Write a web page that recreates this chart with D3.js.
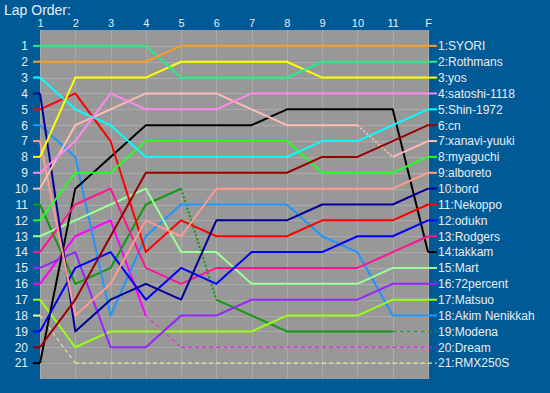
<!DOCTYPE html>
<html>
<head>
<meta charset="utf-8">
<script src="https://cdn.jsdelivr.net/npm/d3@7"></script>
<style>
  html, body { margin: 0; padding: 0; background: #005a96; }
  svg { display: block; }
  text { font-family: "Liberation Sans", Arial, sans-serif; fill: #e8eef4; }
</style>
</head>
<body>
<svg id="chart" width="550" height="393"></svg>
<script>
// ---- data ----
const laps = ["1","2","3","4","5","6","7","8","9","10","11","F"];
const rows = d3.range(1, 22);
const drivers = ["SYORI","Rothmans","yos","satoshi-1118","Shin-1972","cn","xanavi-yuuki","myaguchi","alboreto","bord","Nekoppo","odukn","Rodgers","takkam","Mart","72percent","Matsuo","Akim Nenikkah","Modena","Dream","RMX250S"];
const colors = ["#f5a020","#22ee88","#ffff00","#ff88ee","#00ffff","#990000","#ffbbb6","#22ff22","#ff9a90","#000099","#ff0000","#0000ff","#ff1493","#000000","#99ff99","#9922ff","#99ff11","#1e96ff","#119911","#ff00ff","#ffff99"];

const posSYORI    = [2,2,2,2,1,1,1,1,1,1,1,1];
const posRothmans = [1,1,1,1,3,3,3,3,2,2,2,2];
const posYos      = [8,3,3,3,2,2,2,2,3,3,3,3];
const posSatoshi  = [9,7,4,5,5,5,4,4,4,4,4,4];
const posShin     = [3,5,6,8,8,8,8,8,7,7,6,5];
const posCn       = [20,17,13,9,9,9,9,9,8,8,7,6];
const posXanavi   = [10,6,5,4,4,4,5,6,6,6,8,7];
const posMyaguchi = [12,9,9,7,7,7,7,7,9,9,9,8];
const posAlboreto = [7,18,16,12,13,10,10,10,10,10,10,9];
const posBord     = [4,19,17,16,17,12,12,12,11,11,11,10];
const posNekoppo  = [5,4,7,14,12,13,13,13,12,12,12,11];
const posOdukn    = [19,15,14,17,15,16,14,14,14,13,13,12];
const posRodgers  = [14,11,10,15,16,15,15,15,15,15,14,13];
const posTakkam   = [21,10,8,6,6,6,6,5,5,5,5,14];
const posMart     = [13,12,11,10,14,14,16,16,16,16,15,15];
const pos72       = [15,14,20,20,18,18,17,17,17,17,16,16];
const posMatsuo   = [17,20,19,19,19,19,19,18,18,18,17,17];
const posAkim     = [6,8,18,13,11,11,11,11,13,14,18,18];
const posModena   = [11,16,15,11,10,17,18,19,19,19,19,19];
const posDream    = [16,13,12,18,20,20,20,20,20,20,20,20];
const posRMX      = [18,21,21,21,21,21,21,21,21,21,21,21];

// segment styles: index i = segment from lap i to lap i+1
const dottedSegs = { "xanavi-yuuki": [9], "Modena": [4] };
const dashedSegs = { "Modena": [10], "Dream": [3,4,5,6,7,8,9,10], "RMX250S": [0,1,2,3,4,5,6,7,8,9,10] };
const dashedStub = ["Modena","Dream","RMX250S"];

const positions = [posSYORI,posRothmans,posYos,posSatoshi,posShin,posCn,posXanavi,posMyaguchi,posAlboreto,posBord,posNekoppo,posOdukn,posRodgers,posTakkam,posMart,pos72,posMatsuo,posAkim,posModena,posDream,posRMX];

// ---- layout ----
const svg = d3.select("#chart");
const x = d3.scalePoint().domain(laps).range([40, 428]);
const y = d3.scaleLinear().domain([0, 22]).range([30, 379]);
const stubL = 33, stubR = 437;

svg.append("text").attr("x", 4).attr("y", 15).attr("font-size", 14).text("Lap Order:");

// plot background
svg.append("rect").attr("x", x("1")).attr("y", y(0)).attr("width", x("F") - x("1")).attr("height", y(22) - y(0)).attr("fill", "#989898");

// grid
const grid = svg.append("g").attr("stroke", "#ababab").attr("stroke-width", 1).attr("shape-rendering", "crispEdges");
grid.selectAll("line.v").data(laps).join("line").attr("class","v")
  .attr("x1", d => Math.round(x(d)) + 0.5).attr("x2", d => Math.round(x(d)) + 0.5)
  .attr("y1", y(0)).attr("y2", y(22));
grid.selectAll("line.h").data(rows).join("line").attr("class","h")
  .attr("x1", x("1")).attr("x2", x("F"))
  .attr("y1", d => Math.round(y(d)) + 0.5).attr("y2", d => Math.round(y(d)) + 0.5);

// axes
const topAxis = svg.append("g").attr("transform", "translate(0,29)")
  .call(d3.axisTop(x).tickSize(0).tickPadding(2));
topAxis.select(".domain").remove();
topAxis.selectAll("text").attr("font-size", 11).attr("fill", "#e8eef4").style("font-family", "Liberation Sans, Arial, sans-serif");

const leftAxis = svg.append("g").attr("transform", "translate(28,0)")
  .call(d3.axisLeft(y).tickValues(rows).tickFormat(d3.format("d")).tickSize(0).tickPadding(0));
leftAxis.select(".domain").remove();
leftAxis.selectAll("text").attr("font-size", 12).attr("fill", "#e8eef4").style("font-family", "Liberation Sans, Arial, sans-serif");

// lines
const lineGen = d3.line().x(d => d[0]).y(d => d[1]);
const lg = svg.append("g").attr("fill", "none").attr("stroke-linejoin", "round");

const series = drivers.map((name, i) => ({ name, color: colors[i], pos: positions[i] }));

series.slice().reverse().forEach(s => {
  const dots = dottedSegs[s.name] || [];
  const dashes = dashedSegs[s.name] || [];
  // left stub
  lg.append("path").attr("stroke", s.color).attr("stroke-width", 2)
    .attr("d", lineGen([[stubL, y(s.pos[0])], [x(laps[0]), y(s.pos[0])]]));
  // group consecutive solid segments into runs
  let run = [];
  const flush = () => {
    if (run.length > 1) {
      lg.append("path").attr("stroke", s.color).attr("stroke-width", 2).attr("d", lineGen(run));
    }
    run = [];
  };
  for (let i = 0; i < laps.length - 1; i++) {
    const p0 = [x(laps[i]), y(s.pos[i])], p1 = [x(laps[i+1]), y(s.pos[i+1])];
    if (dots.includes(i)) {
      flush();
      lg.append("path").attr("stroke", s.color).attr("stroke-width", 2).attr("stroke-dasharray", "2,2").attr("d", lineGen([p0, p1]));
    } else if (dashes.includes(i)) {
      flush();
      lg.append("path").attr("stroke", s.color).attr("stroke-width", 1).attr("stroke-dasharray", "4,3").attr("d", lineGen([p0, p1]));
    } else {
      if (run.length === 0) run.push(p0);
      run.push(p1);
    }
  }
  flush();
  // right stub
  const last = s.pos[laps.length - 1];
  const isDash = dashedStub.includes(s.name);
  lg.append("path").attr("stroke", s.color).attr("stroke-width", isDash ? 1 : 2)
    .attr("stroke-dasharray", isDash ? "4,3" : null)
    .attr("d", lineGen([[x("F"), y(last)], [stubR, y(last)]]));
});

// legend labels
svg.append("g").selectAll("text").data(series).join("text")
  .attr("x", 438).attr("y", d => y(d.pos[laps.length - 1]))
  .attr("dy", "0.36em").attr("font-size", 12)
  .text(d => d.pos[laps.length - 1] + ":" + d.name);
</script>
</body>
</html>
